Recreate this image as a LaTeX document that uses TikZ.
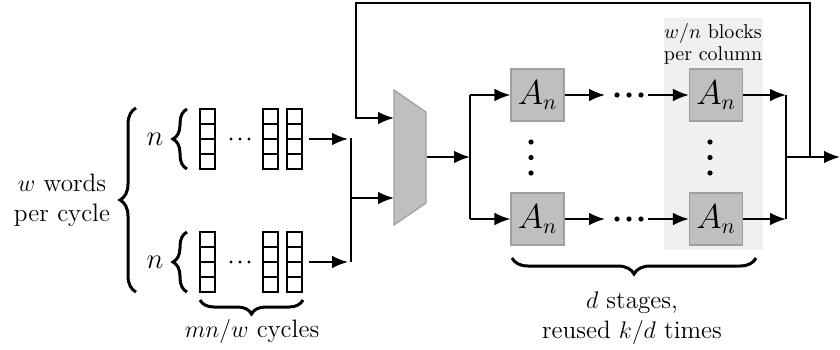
\documentclass[tikz,border=0pt]{standalone}
\usetikzlibrary{arrows.meta,decorations.pathreplacing,calc}
\begin{document}
\begin{tikzpicture}[x=0.5pt,y=-0.5pt,line width=1pt,
  arr/.style={-{Latex[length=8pt,width=6.4pt]}},
  cell/.style={draw,fill=white,line width=0.7pt,minimum width=7.5pt,minimum height=7.5pt,inner sep=0pt,outer sep=0pt},
  blk/.style={draw=gray!75,line width=0.6pt,fill=gray!50,minimum width=26.5pt,minimum height=26pt,inner sep=0pt,font=\fontsize{16}{19}\selectfont},
  bigbrace/.style={decorate,decoration={brace,amplitude=#1},line width=1.5pt},
  lbl/.style={font=\fontsize{12.6}{15}\selectfont,align=center,inner sep=0pt}]
\useasboundingbox (0,0) rectangle (840,349);
% background column
\fill[gray!12] (664,18) rectangle (763,250);
\node[align=center,inner sep=0pt] (colnote) at (713,44) {$w/n$ blocks\\[-1pt]per column};
% input stacks
\foreach \s/\yc in {t/139,b/262}{
  \foreach \c/\xc in {1/207.5,2/270.5,3/294.5}{
    \foreach \r/\dy in {1/-22.5,2/-7.5,3/7.5,4/22.5}{
      \node[cell] (\s\c\r) at (\xc,\yc+\dy) {};
    }
  }
  \foreach \dx in {231,240,249}{\fill (\dx,\yc) circle (0.85pt);}
  \node[lbl,font=\fontsize{14}{16}\selectfont] (n\s) at (155,\yc) {$n$};
  \draw[bigbrace=7pt] (187,\yc+30) -- (187,\yc-30);
  \coordinate (out\s) at (309,\yc);
}
\draw[bigbrace=8pt] (136,292) -- (136,108);
\node[lbl,text width=90pt] (words) at (62,200) {$w$ words\\per cycle};
\draw[bigbrace=7pt] (303,300) -- (200,300);
\node[lbl] (cyc) at (252,331) {$mn/w$ cycles};
% left bus
\coordinate (busT) at (351,138);
\coordinate (busB) at (351,262);
\coordinate (busM) at (351,198);
\draw[arr] (outt) -- (348,139);
\draw[arr] (outb) -- (348,262);
\draw (busT) -- (busB);
% mux
\draw[draw=gray!75,line width=0.6pt,fill=gray!50] (394,90) -- (426,112) -- (426,203) -- (394,225) -- cycle;
\coordinate (muxA) at (394,118);
\coordinate (muxB) at (394,198);
\coordinate (muxO) at (427,157);
\draw[arr] (busM) -- (muxB);
% fanout
\coordinate (fanT) at (470,95);
\coordinate (fanB) at (470,219);
\coordinate (fanM) at (470,157);
\draw[arr] (muxO) -- (fanM);
\draw (fanT) -- (fanB);
% blocks
\foreach \r/\yy in {1/95,2/219}{
  \node[blk] (a\r) at (537.5,\yy) {$A_n$};
  \node[blk] (c\r) at (716,\yy) {$A_n$};
  \coordinate (d\r) at (605,\yy);
  \coordinate (e\r) at (648,\yy);
  \foreach \dx in {617,629,641}{\fill (\dx,\yy) circle (1.3pt);}
}
\draw[arr] (fanT) -- (a1);
\draw[arr] (fanB) -- (a2);
\draw[arr] (a1) -- (d1);
\draw[arr] (a2) -- (d2);
\draw[arr] (e1) -- (c1);
\draw[arr] (e2) -- (c2);
\foreach \xx in {531,710}{\foreach \yy in {142,157.5,173}{\fill (\xx,\yy) circle (1.3pt);}}
% output bus
\coordinate (obT) at (786,95);
\coordinate (obB) at (786,219);
\coordinate (obM) at (786,157);
\coordinate (fb) at (810,157);
\coordinate (outp) at (840,157);
\draw[arr] (c1) -- (obT);
\draw[arr] (c2) -- (obB);
\draw (obT) -- (obB);
\draw[arr] (obM) -- (outp);
\draw[arr] (fb) -- (810,3) -- (356,3) -- (356,118) -- (muxA);
% bottom brace
\draw[bigbrace=8pt] (756,258) -- (512,258);
\node[lbl] (stages) at (632,318) {$d$ stages,\\reused $k/d$ times};
\end{tikzpicture}
\end{document}
